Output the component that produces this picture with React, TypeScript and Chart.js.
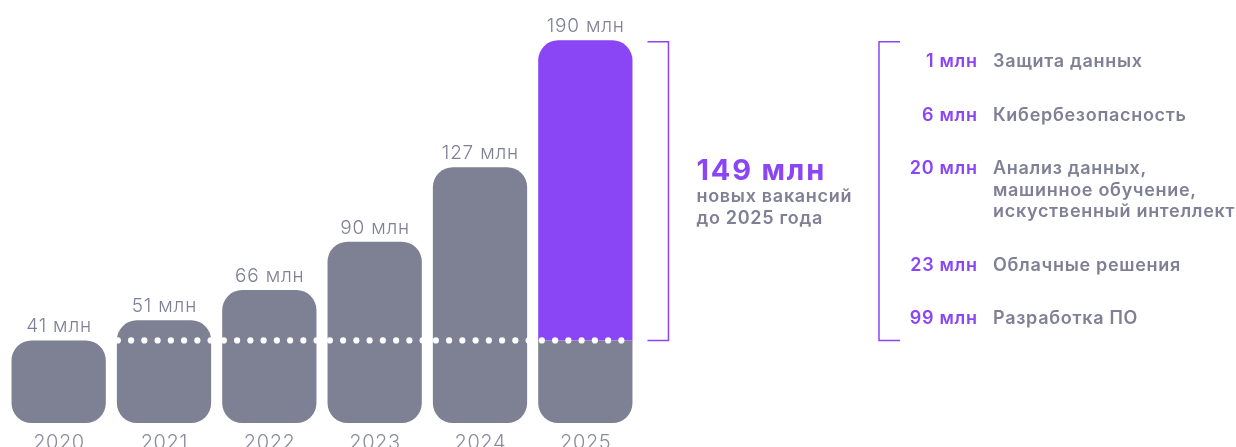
import React, { useEffect, useRef } from 'react';
import { Chart, registerables } from 'chart.js';

Chart.register(...registerables);

const years = ['2020', '2021', '2022', '2023', '2024', '2025'];
const totalValues = [41, 51, 66, 90, 127, 190];
const baseValues = [41, 51, 66, 90, 127, 41];
const newValues = [null, null, null, null, null, 149];
const newTotalLabel = '149 млн';
const newSubtitle = ['новых вакансий', 'до 2025 года'];
const legendValues = ['1 млн', '6 млн', '20 млн', '23 млн', '99 млн'];
const legendLabels = [
  ['Защита данных'],
  ['Кибербезопасность'],
  ['Анализ данных,', 'машинное обучение,', 'искуственный интеллект'],
  ['Облачные решения'],
  ['Разработка ПО'],
];

const GRAY = '#7e8094';
const PURPLE = '#8a46f5';
const TEXT_GRAY = '#7f8095';
const FONT = 'Inter, "Noto Sans", sans-serif';

const overlayPlugin = {
  id: 'overlay',
  afterDatasetsDraw(chart: any) {
    const { ctx, scales } = chart;
    const x = scales.x;
    const y = scales.y;
    const meta0 = chart.getDatasetMeta(0);
    ctx.save();

    // dotted line at base level of 2020 value
    const yDot = y.getPixelForValue(baseValues[0]);
    const bar1 = meta0.data[1];
    const bar5 = meta0.data[5];
    const startX = bar1.x - bar1.width / 2 + 1;
    const endX = bar5.x + bar5.width / 2;
    ctx.fillStyle = '#ffffff';
    for (let px = startX; px <= endX + 0.5; px += 13.25) {
      ctx.beginPath();
      ctx.arc(px, yDot, 3.1, 0, Math.PI * 2);
      ctx.fill();
    }

    // value labels above bars
    ctx.fillStyle = TEXT_GRAY;
    ctx.font = `300 19px ${FONT}`;
    ctx.letterSpacing = '0.8px';
    ctx.textAlign = 'center';
    ctx.textBaseline = 'alphabetic';
    totalValues.forEach((v, i) => {
      const px = x.getPixelForValue(i);
      const py = y.getPixelForValue(v);
      ctx.fillText(`${v} млн`, px + 0.4, py - 8);
    });

    // year labels
    ctx.fillStyle = '#8a8b9d';
    ctx.font = `300 20px ${FONT}`;
    ctx.letterSpacing = '0.6px';
    years.forEach((yr, i) => {
      ctx.fillText(yr, x.getPixelForValue(i) + 0.3, y.getPixelForValue(0) + 26);
    });

    // bracket next to 2025 bar
    const yTop = y.getPixelForValue(totalValues[5]) + 1.5;
    const yBot = yDot;
    const bx = bar5.x + bar5.width / 2 + 36;
    ctx.strokeStyle = PURPLE;
    ctx.lineWidth = 1.5;
    ctx.beginPath();
    ctx.moveTo(bx - 21, yTop);
    ctx.lineTo(bx, yTop);
    ctx.lineTo(bx, yBot);
    ctx.lineTo(bx - 21, yBot);
    ctx.stroke();

    // big label
    const tx = bx + 28;
    ctx.textAlign = 'left';
    ctx.fillStyle = PURPLE;
    ctx.font = `700 29px ${FONT}`;
    ctx.letterSpacing = '1.8px';
    ctx.fillText(newTotalLabel, tx, 180);
    ctx.fillStyle = TEXT_GRAY;
    ctx.font = `600 18px ${FONT}`;
    ctx.letterSpacing = '0.7px';
    newSubtitle.forEach((s, i) => ctx.fillText(s, tx, 202 + i * 22));

    // right bracket
    const rx = 879;
    ctx.beginPath();
    ctx.moveTo(rx + 21, yTop);
    ctx.lineTo(rx, yTop);
    ctx.lineTo(rx, yBot);
    ctx.lineTo(rx + 21, yBot);
    ctx.stroke();

    // legend
    ctx.textBaseline = 'middle';
    ctx.font = `600 18px ${FONT}`;
    ctx.letterSpacing = '0.7px';
    let ly = 62;
    legendValues.forEach((val, i) => {
      ctx.fillStyle = PURPLE;
      ctx.textAlign = 'right';
      ctx.fillText(val, 977.7, ly);
      ctx.fillStyle = TEXT_GRAY;
      ctx.textAlign = 'left';
      const lines = legendLabels[i];
      lines.forEach((l, j) => ctx.fillText(l, 993, ly + j * 21.5));
      ly += (lines.length - 1) * 21.5 + 53.5;
    });

    ctx.restore();
  },
};

export default function App() {
  const ref = useRef<HTMLCanvasElement>(null);
  useEffect(() => {
    if (!ref.current) return;
    const chart = new Chart(ref.current, {
      type: 'bar',
      data: {
        labels: years,
        datasets: [
          {
            data: baseValues,
            backgroundColor: GRAY,
            borderSkipped: false,
            borderRadius: (c: any) =>
              c.dataIndex === 5
                ? { topLeft: 0, topRight: 0, bottomLeft: 20, bottomRight: 20 }
                : { topLeft: 20, topRight: 20, bottomLeft: 20, bottomRight: 20 },
          },
          {
            data: newValues,
            backgroundColor: PURPLE,
            borderSkipped: false,
            borderRadius: { topLeft: 20, topRight: 20, bottomLeft: 0, bottomRight: 0 },
          },
        ],
      },
      options: {
        responsive: false,
        animation: false,
        devicePixelRatio: 1,
        layout: { padding: { left: 6, right: 598, top: 0, bottom: 24 } },
        datasets: { bar: { barPercentage: 1, categoryPercentage: 0.895 } },
        scales: {
          x: { display: false, stacked: true },
          y: { display: false, stacked: true, min: 0, max: 210 },
        },
        plugins: { legend: { display: false }, tooltip: { enabled: false } },
      },
      plugins: [overlayPlugin],
    } as any);
    return () => chart.destroy();
  }, []);
  return (
    <div style={{ position: 'absolute', left: 0, top: 0, width: 1236, height: 447, background: '#fff' }}>
      <canvas ref={ref} width={1236} height={447} />
    </div>
  );
}
